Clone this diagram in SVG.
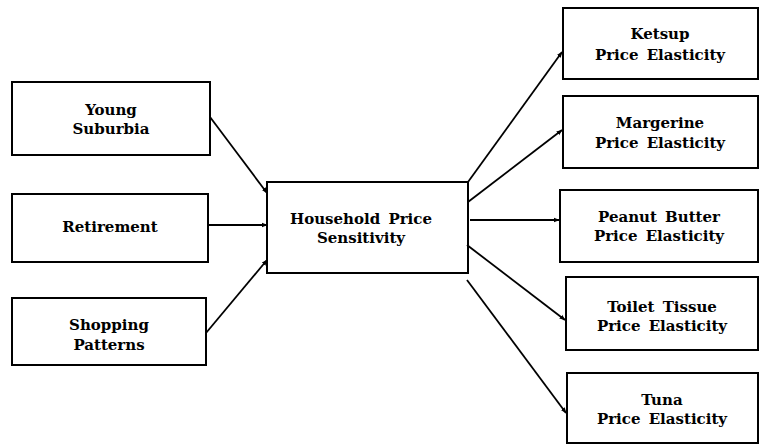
<svg xmlns="http://www.w3.org/2000/svg" width="759" height="444" viewBox="0 0 759 444">
<style>
rect{fill:#fff;stroke:#000;stroke-width:2}
text{font-family:"DejaVu Serif","Liberation Serif",serif;font-weight:bold;font-size:15px;text-anchor:middle;fill:#000;word-spacing:3px}
.c line{stroke:#000;stroke-width:1.8;marker-end:url(#ah)}
</style>
<defs>
<marker id="ah" viewBox="0 0 10 10" refX="9" refY="5" markerWidth="6" markerHeight="6" orient="auto" markerUnits="userSpaceOnUse"><path d="M0,1 L10,5 L0,9 z" fill="#000"/></marker>
</defs>
<rect width="759" height="444" style="stroke:none"/>
<g id="young"><rect x="12" y="82" width="198" height="73"/><text x="111" y="115">Young</text><text x="111" y="134">Suburbia</text></g>
<g id="retirement"><rect x="12" y="194" width="196" height="68"/><text x="110" y="232">Retirement</text></g>
<g id="shopping"><rect x="12" y="298" width="194" height="67"/><text x="109" y="330">Shopping</text><text x="109" y="350">Patterns</text></g>
<g id="household"><rect x="267" y="182" width="201" height="91"/><text x="361" y="224">Household Price</text><text x="361" y="243">Sensitivity</text></g>
<g id="ketsup"><rect x="563" y="8" width="195" height="71"/><text x="660" y="39">Ketsup</text><text x="660" y="60">Price Elasticity</text></g>
<g id="margerine"><rect x="563" y="96" width="195" height="72"/><text x="660" y="128">Margerine</text><text x="660" y="148">Price Elasticity</text></g>
<g id="peanut"><rect x="560" y="190" width="198" height="72"/><text x="659" y="222">Peanut Butter</text><text x="659" y="241">Price Elasticity</text></g>
<g id="toilet"><rect x="566" y="277" width="192" height="73"/><text x="662" y="312">Toilet Tissue</text><text x="662" y="331">Price Elasticity</text></g>
<g id="tuna"><rect x="567" y="373" width="191" height="70"/><text x="662" y="405">Tuna</text><text x="662" y="424">Price Elasticity</text></g>
<g class="c" id="connectors">
<line x1="210" y1="117" x2="267" y2="193"/>
<line x1="208" y1="225" x2="267" y2="225"/>
<line x1="206" y1="333" x2="267" y2="260"/>
<line x1="468" y1="182" x2="562" y2="52"/>
<line x1="468" y1="202" x2="562" y2="130"/>
<line x1="470" y1="220" x2="559" y2="220"/>
<line x1="467" y1="245" x2="565" y2="320"/>
<line x1="467" y1="280" x2="566" y2="413"/>
</g>
</svg>
